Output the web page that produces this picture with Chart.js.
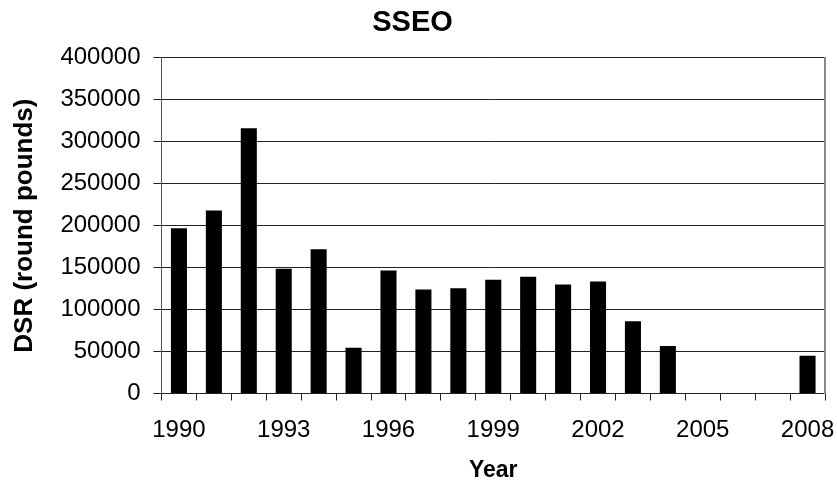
<!DOCTYPE html>
<html>
<head>
<meta charset="utf-8">
<script src="https://cdn.jsdelivr.net/npm/chart.js@4/dist/chart.umd.min.js"></script>
<style>
  html, body { margin: 0; padding: 0; background: #fff; }
  #wrap { width: 837px; height: 485px; }
</style>
</head>
<body>
<div id="wrap"><canvas id="c" width="837" height="485"></canvas></div>
<script>
// Annual DSR totals, 1990-2008 (no figures for 2005-2007)
const years = ['1990','1991','1992','1993','1994','1995','1996','1997','1998','1999',
               '2000','2001','2002','2003','2004','2005','2006','2007','2008'];
const dsr = [197000, 218000, 316000, 148500, 172000, 54500, 146500, 124000, 125500, 135500,
             139000, 130000, 133500, 86000, 56500, null, null, null, 45000];
const yTicks = [0, 50000, 100000, 150000, 200000, 250000, 300000, 350000, 400000];
const labelEvery = 3;

const FONT = 'Liberation Sans, Arial, sans-serif';

new Chart(document.getElementById('c'), {
  type: 'bar',
  data: {
    labels: years,
    datasets: [{
      data: dsr,
      backgroundColor: '#000',
      borderWidth: 0,
      barPercentage: 0.46,
      categoryPercentage: 1.0
    }]
  },
  options: {
    responsive: false,
    animation: false,
    events: [],
    layout: { padding: { left: 0, right: 12, top: 0, bottom: 0 } },
    plugins: {
      legend: { display: false },
      tooltip: { enabled: false },
      title: {
        display: true,
        text: 'SSEO',
        color: '#000',
        font: { family: FONT, size: 29, weight: 'bold', lineHeight: 1.2 },
        padding: { top: 6, bottom: 17 }
      }
    },
    scales: {
      x: {
        offset: true,
        grid: {
          offset: true,
          drawOnChartArea: false,
          drawTicks: true,
          tickLength: 7,
          color: '#222',
          lineWidth: 1
        },
        border: { color: '#222', width: 1 },
        ticks: {
          autoSkip: false,
          maxRotation: 0,
          minRotation: 0,
          color: '#000',
          padding: 15,
          font: { family: FONT, size: 24 },
          callback: function (v, i) { return i % labelEvery === 0 ? years[i] : ''; }
        },
        title: {
          display: true,
          text: 'Year',
          color: '#000',
          font: { family: FONT, size: 23, weight: 'bold', lineHeight: 1.2 },
          padding: { top: 0, bottom: 1 }
        },
        afterFit: function (s) {
          s.height = 91.5;
          // the last label may run into the right margin
          s.paddingLeft = 0;
          s.paddingRight = 0;
        }
      },
      y: {
        min: 0,
        max: 400000,
        afterBuildTicks: function (s) { s.ticks = yTicks.map(v => ({ value: v })); },
        grid: {
          color: '#222',
          lineWidth: 1,
          tickLength: 8,
          drawTicks: true
        },
        border: { color: '#555', width: 1 },
        ticks: {
          color: '#000',
          padding: 13,
          font: { family: FONT, size: 24 },
          callback: function (v) { return String(v); }
        },
        title: {
          display: true,
          text: 'DSR (round pounds)',
          color: '#000',
          font: { family: FONT, size: 26, weight: 'bold', lineHeight: 1.2 },
          padding: { top: 9, bottom: 0 }
        },
        afterFit: function (s) { s.width = 161.5; }
      },
      yRight: {
        position: 'right',
        min: 0,
        max: 400000,
        grid: { drawOnChartArea: false, drawTicks: false },
        border: { color: '#888', width: 2 },
        ticks: { display: false },
        afterFit: function (s) { s.width = 0; }
      }
    }
  }
});
</script>
</body>
</html>
